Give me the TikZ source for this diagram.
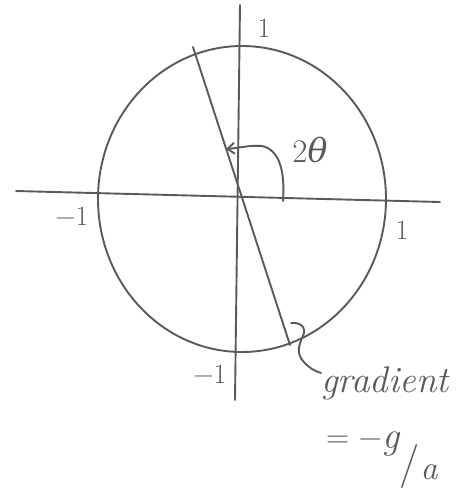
\documentclass[tikz,border=0pt]{standalone}
\usepackage{fontspec}
\newfontfamily\grk{DejaVu Serif}
\usetikzlibrary{arrows.meta}
\definecolor{pencil}{RGB}{90,90,90}
\begin{document}
\begin{tikzpicture}[x=1pt,y=-1pt,
  line/.style={draw=pencil,line width=1.9pt,line cap=round},
  lbl/.style={text=pencil,inner sep=0pt,font=\fontsize{28}{30}\selectfont},
  big/.style={text=pencil,inner sep=0pt,font=\fontsize{37}{39}\selectfont\itshape}]
\useasboundingbox (0,0) rectangle (457,491);
% axes
\coordinate (xl) at (16,191);
\coordinate (xr) at (440,202);
\coordinate (yt) at (240,5);
\coordinate (yb) at (235,400);
\draw[line] (xl) -- (xr);
\draw[line] (yt) -- (yb);
% circle
\draw[line] (242,199) ellipse [x radius=144, y radius=153];
% diagonal (gradient line)
\coordinate (dt) at (193,47);
\coordinate (db) at (290,345);
\draw[line] (dt) -- (db);
% angle arrow
\coordinate (as) at (283,201);
\coordinate (ae) at (226,149);
\draw[line,-{Straight Barb[length=7pt,width=11pt]}] (as) .. controls (285,172) and (280,150) .. (262,146)
  .. controls (250,145) and (238,148) .. (ae);
\node[lbl,font=\fontsize{33}{35}\selectfont] (ang) at (310,150) {2{\grk\itshape θ}};
% axis labels
\node[lbl] (ytop) at (264,28) {1};
\node[lbl] (xneg) at (72,216) {−1};
\node[lbl] (xpos) at (402,230) {1};
\node[lbl] (yneg) at (210,374) {−1};
% brace to label
\coordinate (bs) at (291,323);
\coordinate (be) at (321,373);
\draw[line] (bs) .. controls (300,322) and (307,327) .. (303,336)
  .. controls (298,346) and (297,354) .. (303,361)
  .. controls (308,367) and (314,371) .. (be);
\node[big,anchor=west] (grad) at (321,383) {gradient};
\node[lbl,font=\fontsize{32}{34}\selectfont] (eq) at (354,442) {= −};
\node[lbl,font=\fontsize{38}{40}\selectfont\itshape] (gg) at (391,444) {g};
\node[lbl,font=\fontsize{44}{46}\selectfont] (sl) at (410,466) {/};
\node[lbl,font=\fontsize{34}{36}\selectfont\itshape] (aa) at (429,472) {a};
\end{tikzpicture}
\end{document}
